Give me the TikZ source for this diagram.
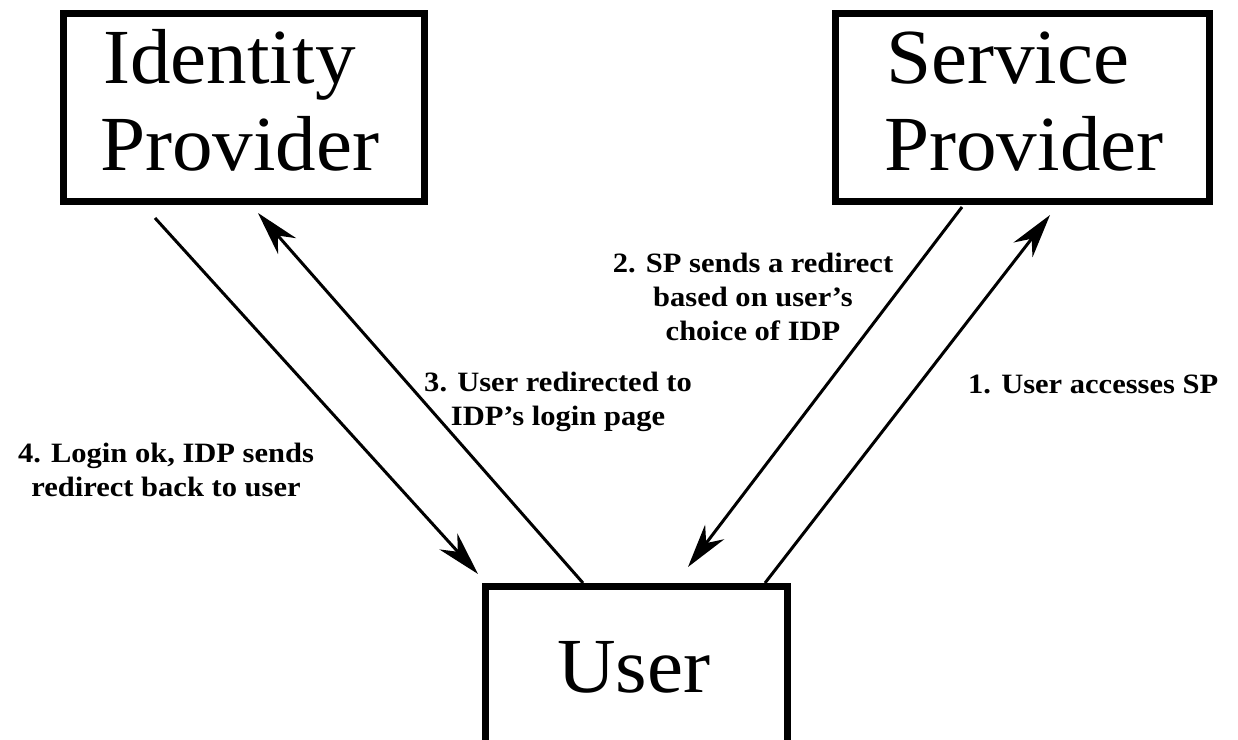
\documentclass[tikz,border=0pt]{standalone}
\usepackage{fontspec}
\setmainfont{Liberation Serif}
\newfontfamily\lblfont{Liberation Serif}[FakeStretch=1.09,Ligatures=TeX]
\newfontfamily\bigfont{Liberation Serif}[FakeStretch=1.04]
\usetikzlibrary{arrows.meta}
\begin{document}
\begin{tikzpicture}[x=1pt,y=-1pt,
  boxnode/.style={draw, line width=7pt, inner sep=0pt},
  bigtext/.style={inner sep=0pt, anchor=base west, font=\bigfont\fontsize{78}{87}\selectfont},
  lbl/.style={inner sep=0pt, align=center, font=\lblfont\bfseries\fontsize{28}{34}\selectfont},
  conn/.style={line width=3pt, -{Stealth[length=44pt,width=24pt,inset=14pt]}}]
\clip (0,0) rectangle (1238,739);
\fill[white] (0,0) rectangle (1238,739);
% boxes
\node[boxnode, minimum width=361pt, minimum height=188pt] (idp) at (244,107.5) {};
\node[boxnode, minimum width=374pt, minimum height=188pt] (sp) at (1022.5,107.5) {};
\node[boxnode, minimum width=302pt, minimum height=200pt] (user) at (636.5,686.5) {};
% box texts
\node[bigtext] (idp1) at (103,83) {Identity};
\node[bigtext] (idp2) at (100,170) {Provider};
\node[bigtext] (sp1) at (886,83) {Service};
\node[bigtext] (sp2) at (884,170) {Provider};
\node[bigtext] (usert) at (557,692) {User};
% connector end points
\coordinate (a4s) at (155,218);
\coordinate (a4e) at (478,574);
\coordinate (a3s) at (583,583);
\coordinate (a3e) at (258,213);
\coordinate (a2s) at (962,207);
\coordinate (a2e) at (688,567);
\coordinate (a1s) at (765,583);
\coordinate (a1e) at (1050,215);
\draw[conn] (a4s) -- (a4e);
\draw[conn] (a3s) -- (a3e);
\draw[conn] (a2s) -- (a2e);
\draw[conn] (a1s) -- (a1e);
% labels
\node[lbl, anchor=base] (l4) at (166,496) {4. Login ok, IDP sends\\redirect back to user};
\node[lbl, anchor=base] (l3) at (558,425) {3. User redirected to\\IDP’s login page};
\node[lbl, anchor=base] (l2) at (753,340) {2. SP sends a redirect\\based on user’s\\choice of IDP};
\node[lbl, anchor=base west, align=left] (l1) at (968,393) {1. User accesses SP};
\end{tikzpicture}
\end{document}
